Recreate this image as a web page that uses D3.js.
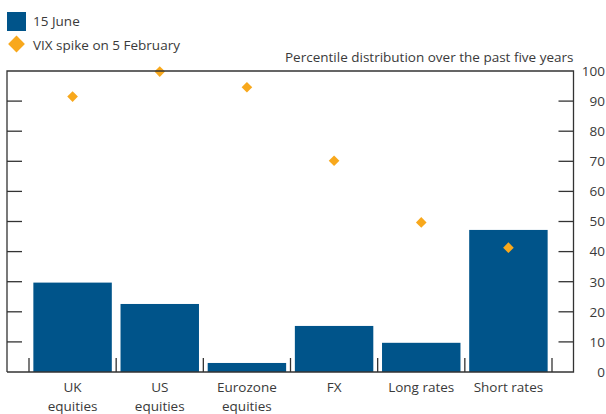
<!DOCTYPE html>
<html>
<head>
<meta charset="utf-8">
<script src="https://cdn.jsdelivr.net/npm/d3@7"></script>
<style>
  html, body { margin: 0; padding: 0; background: #fff; }
  svg { display: block; }
  text { font-family: "Open Sans", "Noto Sans", sans-serif; fill: #3a3a3a; }
</style>
</head>
<body>
<svg id="chart" width="606" height="414"></svg>
<script>
const categories = [["UK", "equities"], ["US", "equities"], ["Eurozone", "equities"], ["FX"], ["Long rates"], ["Short rates"]];
const june15 = [29.7, 22.6, 3.0, 15.3, 9.7, 47.2];
const vixSpike = [91.5, 99.8, 94.6, 70.2, 49.7, 41.3];
const yTicks = [0, 10, 20, 30, 40, 50, 60, 70, 80, 90, 100];
const legendLabels = ["15 June", "VIX spike on 5 February"];
const axisTitle = "Percentile distribution over the past five years";

const barColor = "#00548a";
const diamondColor = "#f8a81c";
const axisColor = "#333";

const svg = d3.select("#chart");
const frame = { left: 7, right: 573.5, top: 71, bottom: 372 };
const bandRange = [29, 552];

const x = d3.scaleBand()
  .domain(d3.range(categories.length))
  .range(bandRange)
  .paddingInner(0.1)
  .paddingOuter(0.05);

const y = d3.scaleLinear().domain([0, 100]).range([frame.bottom, frame.top]);

// bars
svg.append("g").selectAll("rect")
  .data(june15)
  .join("rect")
  .attr("x", (d, i) => x(i))
  .attr("width", x.bandwidth())
  .attr("y", d => y(d))
  .attr("height", d => y(0) - y(d))
  .attr("fill", barColor);

// diamonds
const diamond = d3.symbol().type(d3.symbolDiamond2).size(72);
svg.append("g").selectAll("path")
  .data(vixSpike)
  .join("path")
  .attr("d", diamond)
  .attr("transform", (d, i) => `translate(${x(i) + x.bandwidth() / 2},${y(d)})`)
  .attr("fill", diamondColor);

// frame: left, top, right, bottom
const fg = svg.append("g").attr("stroke", axisColor).attr("stroke-width", 1.3).attr("fill", "none");
fg.append("path").attr("d", `M${frame.left},${frame.bottom}V${frame.top}H${frame.right}V${frame.bottom}H${frame.left}`);

// left inward ticks
fg.selectAll("line.lt")
  .data(yTicks.filter(t => t > 0 && t < 100))
  .join("line")
  .attr("x1", frame.left).attr("x2", frame.left + 15)
  .attr("y1", d => y(d)).attr("y2", d => y(d));
// right inward ticks
fg.selectAll("line.rt")
  .data(yTicks.filter(t => t > 0 && t < 100))
  .join("line")
  .attr("x1", frame.right - 15).attr("x2", frame.right)
  .attr("y1", d => y(d)).attr("y2", d => y(d));

// category separators
const seps = d3.range(categories.length + 1).map(i => {
  const step = x.step();
  return bandRange[0] + i * (bandRange[1] - bandRange[0]) / categories.length;
});
fg.selectAll("line.sep")
  .data(seps)
  .join("line")
  .attr("x1", d => d).attr("x2", d => d)
  .attr("y1", frame.bottom).attr("y2", frame.bottom - 14);

// y tick labels (right)
svg.append("g").selectAll("text")
  .data(yTicks)
  .join("text")
  .attr("x", 605)
  .attr("y", d => y(d))
  .attr("dy", "0.36em")
  .attr("text-anchor", "end")
  .attr("font-size", 13.5)
  .text(d => d);

// x labels
const xl = svg.append("g").selectAll("text")
  .data(categories)
  .join("text")
  .attr("x", (d, i) => x(i) + x.bandwidth() / 2)
  .attr("y", 392)
  .attr("text-anchor", "middle")
  .attr("font-size", 13.5);
xl.selectAll("tspan")
  .data(d => d)
  .join("tspan")
  .attr("x", function () { return d3.select(this.parentNode).attr("x"); })
  .attr("dy", (d, j) => j === 0 ? 0 : 19)
  .text(d => d);

// axis title
svg.append("text")
  .attr("x", frame.right)
  .attr("y", 62)
  .attr("text-anchor", "end")
  .attr("font-size", 13.5)
  .text(axisTitle);

// legend
const lg = svg.append("g");
lg.append("rect").attr("x", 7).attr("y", 12).attr("width", 19).attr("height", 19).attr("fill", barColor);
lg.append("path")
  .attr("d", d3.symbol().type(d3.symbolDiamond2).size(180))
  .attr("transform", "translate(16.5,44)")
  .attr("fill", diamondColor);
lg.selectAll("text")
  .data(legendLabels)
  .join("text")
  .attr("x", 33)
  .attr("y", (d, i) => 26 + i * 24)
  .attr("font-size", 13.5)
  .text(d => d);
</script>
</body>
</html>
